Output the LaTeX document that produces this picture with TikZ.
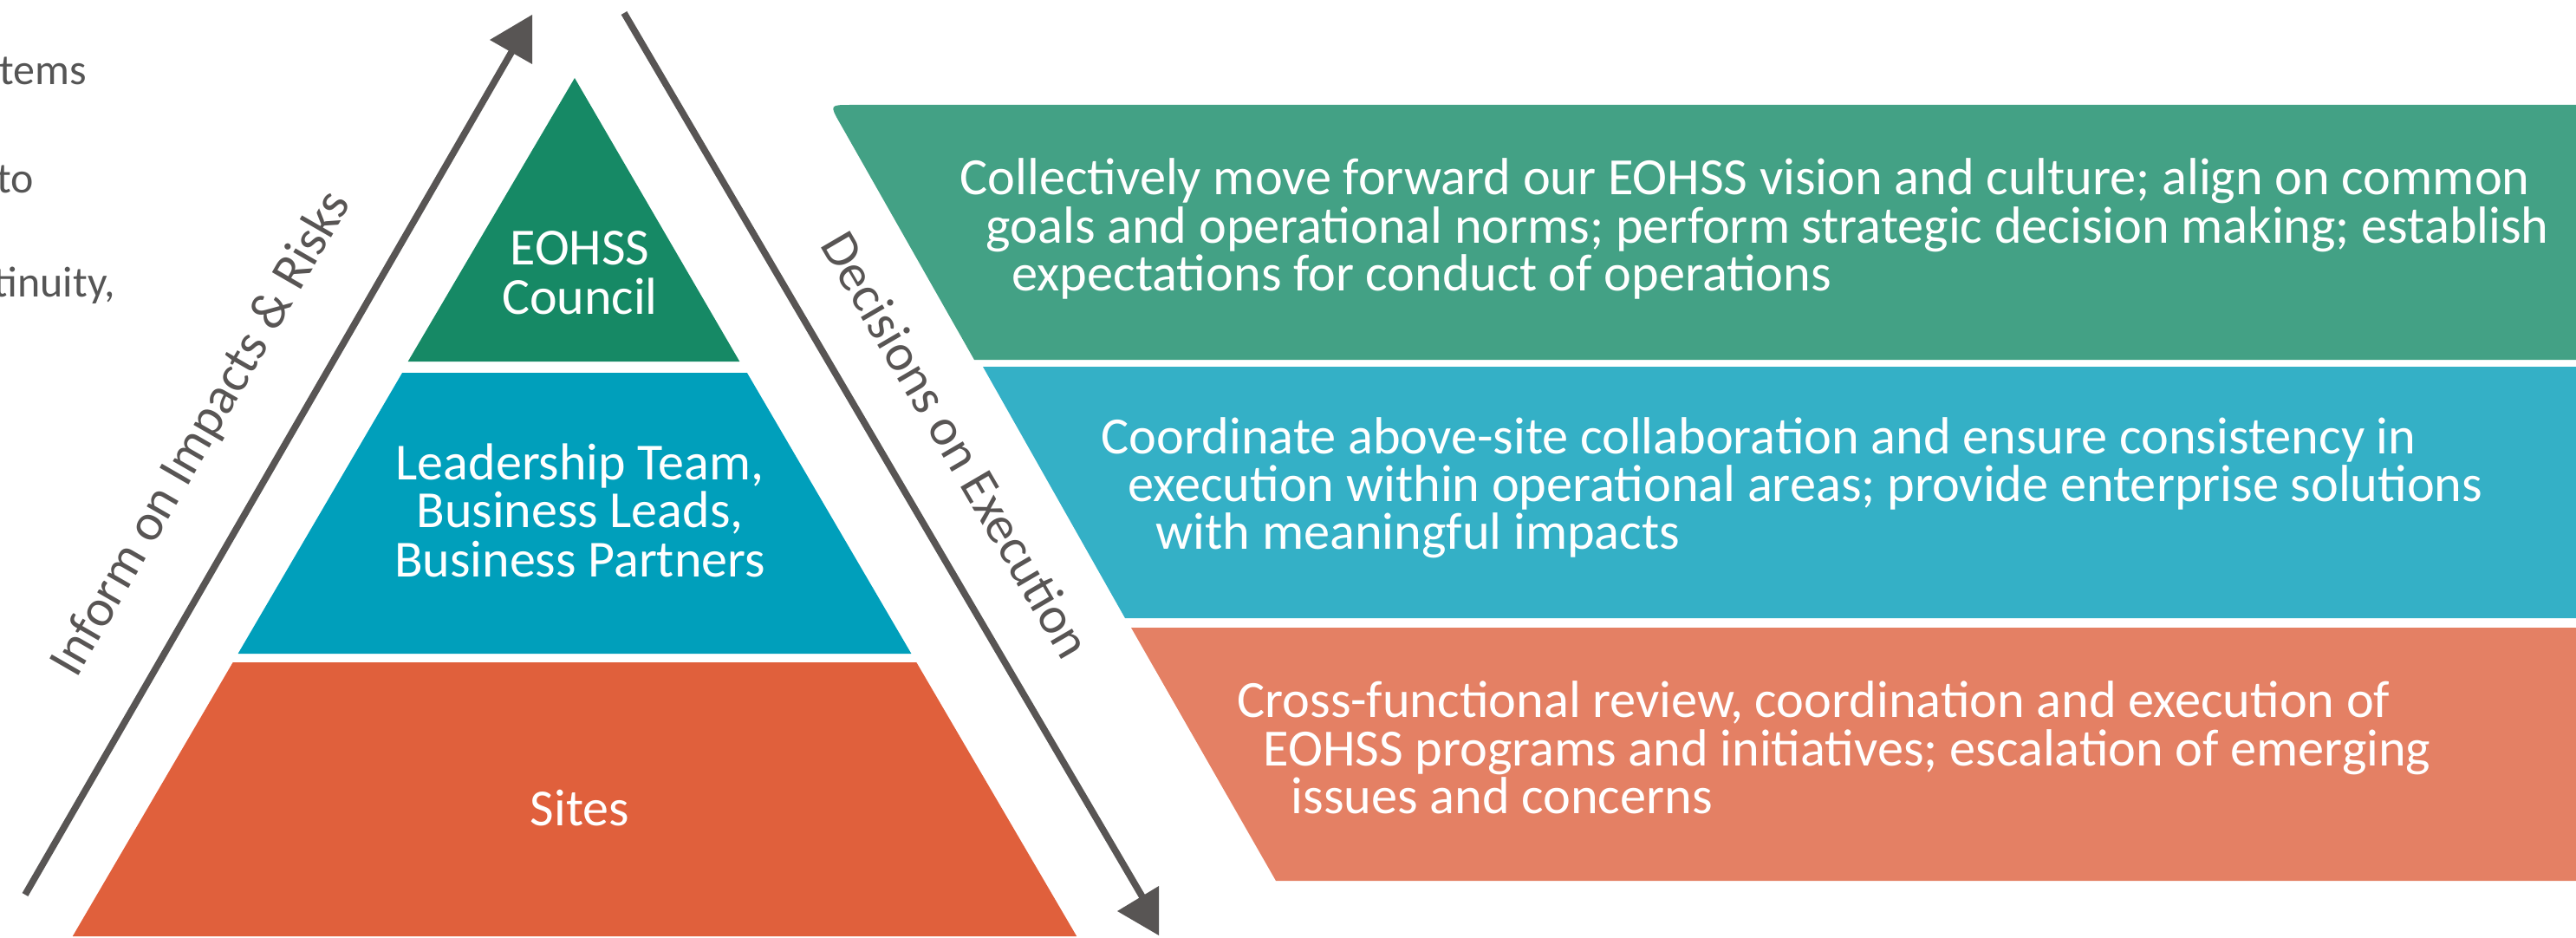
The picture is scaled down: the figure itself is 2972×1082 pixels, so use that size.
\documentclass[tikz,border=0pt]{standalone}
\usepackage{fontspec}
\setmainfont{Carlito}
\definecolor{pyrgreen}{RGB}{22,137,101}
\definecolor{pyrteal}{RGB}{0,159,187}
\definecolor{pyrorange}{RGB}{224,96,60}
\definecolor{pangreen}{RGB}{67,161,133}
\definecolor{panteal}{RGB}{52,176,198}
\definecolor{panorange}{RGB}{228,128,100}
\definecolor{arrowgray}{RGB}{88,85,84}
\definecolor{sidegray}{RGB}{85,85,85}
\begin{document}
\begin{tikzpicture}[x=0.01cm,y=-0.01cm,
  paneltext/.style={text=white, font=\fontsize{17.15}{20}\selectfont, anchor=base west, inner sep=0pt},
  pyrtext/.style={text=white, font=\fontsize{17.07}{20}\selectfont, anchor=base, inner sep=0pt},
  lbl/.style={text=arrowgray, font=\fontsize{17.07}{20}\selectfont, anchor=base west, inner sep=0pt},
  sidetext/.style={text=sidegray, font=\fontsize{14.2}{16}\selectfont, anchor=base west, inner sep=0pt},
  arrowline/.style={draw=arrowgray, line width=2.2pt},
  arrowtip/.style={fill=arrowgray}]
\useasboundingbox (0,0) rectangle (2972,1082);
\clip (0,0) rectangle (2972,1082);

% cut-off text at the left edge
\node[sidetext] (s1) at (-1,98) {tems};
\node[sidetext] (s2) at (-4,222) {to};
\node[sidetext] (s3) at (-8,343) {tinuity,};

% pyramid
\fill[pyrgreen] (663,90) -- (853.3,417) -- (470.7,417) -- cycle;
\fill[pyrteal] (464.1,430) -- (861.9,430) -- (1051.4,754) -- (274.6,754) -- cycle;
\fill[pyrorange] (268.7,764) -- (1057.3,764) -- (1242.2,1080) -- (83.8,1080) -- cycle;

\node[pyrtext] (p1a) at (669,306) {EOHSS};
\node[pyrtext] (p1b) at (669,362) {Council};
\node[pyrtext] (p2a) at (669,553) {Leadership Team,};
\node[pyrtext] (p2b) at (669,608) {Business Leads,};
\node[pyrtext] (p2c) at (669,665) {Business Partners};
\node[pyrtext] (p3a) at (669,952) {Sites};

% right-hand panels
\fill[pangreen] (2972,121) -- (982,121) .. controls (957,121) .. (969.4,142.7)
  -- (1124,415) -- (2972,415) -- cycle;
\fill[panteal] (1134,423) -- (2972,423) -- (2972,713) -- (1298,713) -- cycle;
\fill[panorange] (1305,724) -- (2972,724) -- (2972,1016) -- (1472,1016) -- cycle;

\node[paneltext] (g1) at (1107,225) {Collectively move forward our EOHSS vision and culture; align on common};
\node[paneltext] (g2) at (1137,281) {goals and operational norms; perform strategic decision making; establish};
\node[paneltext] (g3) at (1167,335) {expectations for conduct of operations};

\node[paneltext] (t1) at (1270,523) {Coordinate above-site collaboration and ensure consistency in};
\node[paneltext] (t2) at (1301,578) {execution within operational areas; provide enterprise solutions};
\node[paneltext] (t3) at (1333,633) {with meaningful impacts};

\node[paneltext] (o1) at (1427,827) {Cross-functional review, coordination and execution of};
\node[paneltext] (o2) at (1457,883) {EOHSS programs and initiatives; escalation of emerging};
\node[paneltext] (o3) at (1489,938) {issues and concerns};

% arrows
\coordinate (upS) at (29,1032);
\coordinate (upE) at (596,50);
\draw[arrowline] (upS) -- (upE);
\fill[arrowtip] (565,46) -- (614,17) -- (614,74) -- cycle;

\coordinate (dnS) at (720,15);
\coordinate (dnE) at (1320,1038);
\draw[arrowline] (dnS) -- (dnE);
\fill[arrowtip] (1289,1051) -- (1337,1022) -- (1337,1079) -- cycle;

\node[lbl, rotate=60] (inform) at (88,784) {Inform on Impacts \& Risks};
\node[lbl, rotate=-59.7] (decide) at (945,282) {Decisions on Execution};
\end{tikzpicture}
\end{document}
